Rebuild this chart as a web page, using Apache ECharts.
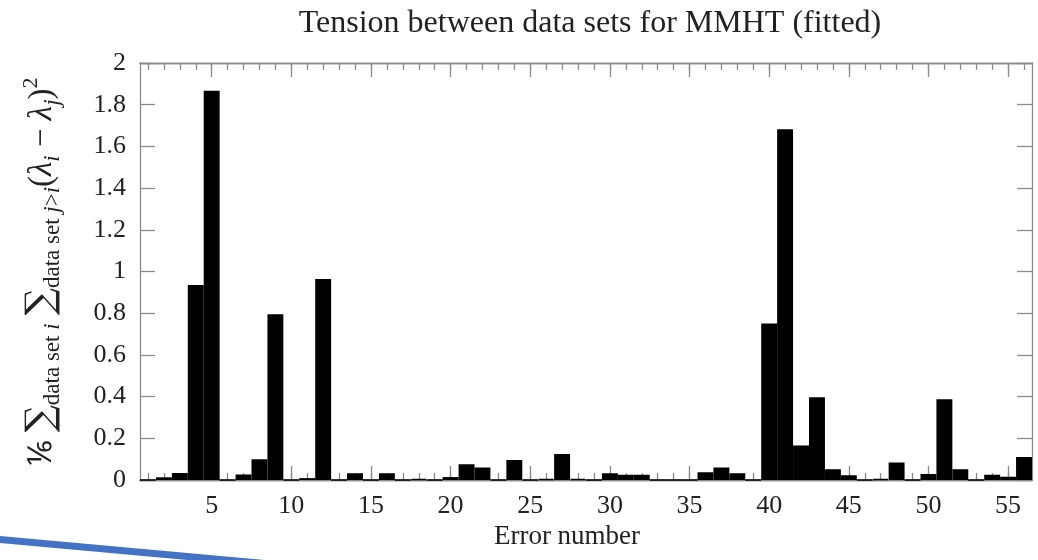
<!DOCTYPE html>
<html>
<head>
<meta charset="utf-8">
<script src="https://cdn.jsdelivr.net/npm/echarts@6/dist/echarts.min.js"></script>
<style>html,body{margin:0;padding:0;background:#fff}#c{width:1038px;height:560px}</style>
</head>
<body>
<div id="c"></div>
<script>
const errorNumbers = Array.from({length: 56}, (_, i) => String(i + 1));
const tension = [
  0, 0.013, 0.034, 0.935, 1.867, 0, 0.026, 0.099, 0.795, 0,
  0.009, 0.964, 0, 0.032, 0, 0.032, 0, 0.005, 0, 0.014,
  0.075, 0.060, 0, 0.096, 0, 0.005, 0.125, 0.005, 0, 0.032,
  0.025, 0.025, 0, 0, 0, 0.037, 0.060, 0.032, 0, 0.751,
  1.682, 0.165, 0.397, 0.052, 0.023, 0, 0.005, 0.084, 0, 0.029,
  0.387, 0.052, 0, 0.025, 0.015, 0.110
];
const titleText = 'Tension between data sets for MMHT (fitted)';
const xName = 'Error number';

const FONT = 'Liberation Serif';
const GRAY = '#8a8a8a';
const TXT = '#222';

const isMajor = (i) => (i + 1) % 5 === 0;

function xAx(pos, major, labels) {
  return {
    type: 'category', data: errorNumbers, position: pos, boundaryGap: true,
    axisLine: {show: true, lineStyle: {color: GRAY, width: 1.3}},
    axisTick: {show: true, inside: true, alignWithLabel: true,
      length: major ? 14 : 7,
      interval: major ? (i) => isMajor(i) : 0,
      lineStyle: {color: GRAY, width: 1.3}},
    axisLabel: labels ? {show: true, interval: (i) => isMajor(i), margin: 13,
      fontFamily: FONT, fontSize: 26, color: TXT} : {show: false},
    splitLine: {show: false},
    name: labels ? xName : '',
    nameLocation: 'middle', nameGap: 38,
    nameTextStyle: {fontFamily: FONT, fontSize: 27, color: TXT, padding: [0, 38, 0, 0]}
  };
}
function yAx(pos, labels) {
  return {
    type: 'value', position: pos, min: 0, max: 2, interval: 0.2,
    axisLine: {show: true, lineStyle: {color: GRAY, width: 1.3}},
    axisTick: {show: true, inside: true, length: 15, lineStyle: {color: GRAY, width: 1.3}},
    axisLabel: labels ? {show: true, margin: 14, fontFamily: FONT, fontSize: 26, color: TXT} : {show: false},
    splitLine: {show: false},
    name: labels ? '{n|⅙ }{s|∑}{b|data set }{bi|i}{n| }{s|∑}{b|data set }{bi|j}{b|>}{bi|i}{n|(}{ni|λ}{bi|i}{n| − }{ni|λ}{bi|j}{n|)}{p|2}' : '',
    nameLocation: 'middle', nameRotate: 90, nameGap: 76,
    nameTextStyle: {
      fontFamily: FONT, color: TXT,
      rich: {
        n: {fontFamily: FONT, fontSize: 33, lineHeight: 44, color: TXT, verticalAlign: 'middle'},
        ni: {fontFamily: FONT, fontSize: 33, lineHeight: 44, fontStyle: 'italic', color: TXT, verticalAlign: 'middle'},
        s: {fontFamily: 'DejaVu Serif', fontSize: 38, lineHeight: 44, color: TXT, verticalAlign: 'middle'},
        b: {fontFamily: FONT, fontSize: 23, lineHeight: 20, color: TXT, verticalAlign: 'bottom'},
        bi: {fontFamily: FONT, fontSize: 23, lineHeight: 20, fontStyle: 'italic', color: TXT, verticalAlign: 'bottom'},
        p: {fontFamily: FONT, fontSize: 22, lineHeight: 20, color: TXT, verticalAlign: 'top'}
      }
    }
  };
}

const chart = echarts.init(document.getElementById('c'), null, {renderer: 'canvas'});
chart.setOption({
  animation: false,
  backgroundColor: '#fff',
  title: {
    text: titleText, left: 585, top: 3, textAlign: 'center',
    textStyle: {fontFamily: FONT, fontSize: 32, fontWeight: 'normal', color: TXT}
  },
  grid: {left: 140, right: 6, top: 63, bottom: 80, containLabel: false},
  xAxis: [xAx('bottom', true, true), xAx('bottom', false, false), xAx('top', true, false), xAx('top', false, false)],
  yAxis: [yAx('left', true), yAx('right', false)],
  series: [{
    type: 'bar', data: tension, xAxisIndex: 0, yAxisIndex: 0,
    barCategoryGap: '0%', barGap: '0%',
    itemStyle: {color: '#000', borderColor: '#000', borderWidth: 1.5},
    silent: true
  }],
  graphic: [{
    type: 'line', silent: true,
    shape: {x1: -5, y1: 539, x2: 270, y2: 564},
    style: {stroke: '#4472C4', lineWidth: 7}
  }]
});
</script>
</body>
</html>
